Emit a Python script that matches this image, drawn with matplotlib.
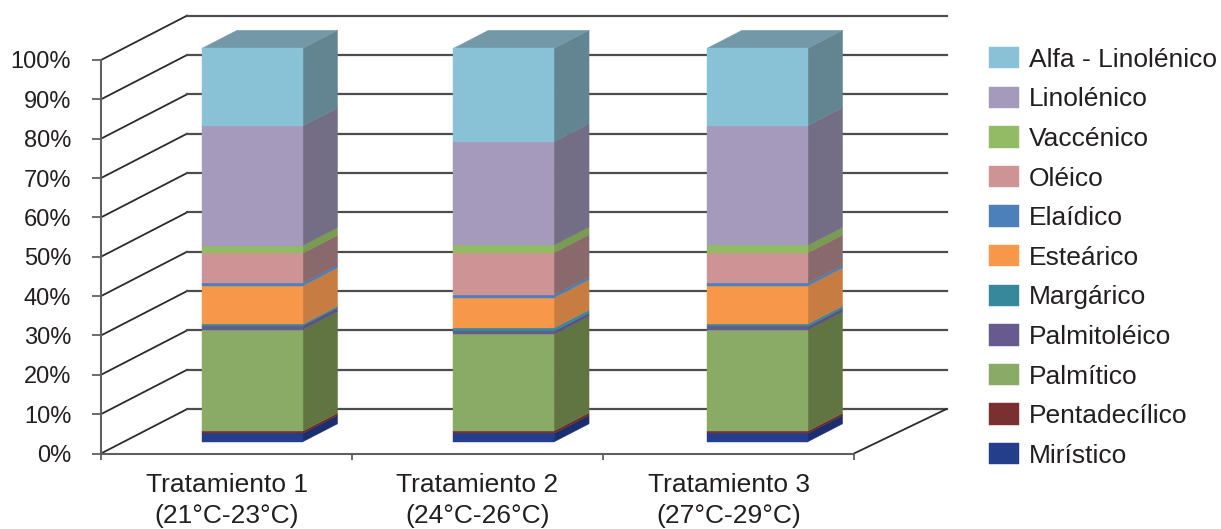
import matplotlib
matplotlib.use("Agg")
from matplotlib import pyplot as plt
from matplotlib.patches import Patch, Polygon

plt.rcParams['font.family'] = ['Liberation Sans', 'DejaVu Sans']

tratamientos = ["Tratamiento 1\n(21°C-23°C)", "Tratamiento 2\n(24°C-26°C)", "Tratamiento 3\n(27°C-29°C)"]
acidos = ["Mirístico", "Pentadecílico", "Palmítico", "Palmitoléico", "Margárico", "Esteárico",
          "Elaídico", "Oléico", "Vaccénico", "Linolénico", "Alfa - Linolénico"]

# porcentajes de cada tratamiento, de abajo hacia arriba
trat1 = [2.13, 0.58, 25.8, 1.0, 0.4, 9.75, 0.66, 7.6, 1.96, 30.4, 19.72]
trat2 = [2.13, 0.66, 24.55, 0.84, 0.76, 7.72, 0.66, 10.75, 1.93, 26.3, 23.7]
trat3 = [2.13, 0.58, 25.7, 0.93, 0.6, 9.7, 0.66, 7.7, 1.93, 30.4, 19.67]

color_frente = ["#243E8C", "#7A3030", "#8AAB65", "#675A8E", "#36889A", "#F79749",
                "#4B80BB", "#CE9395", "#93BB65", "#A599BC", "#89C2D6"]
color_lado = ["#1A2E70", "#6E2A2A", "#617543", "#5C5280", "#36889A", "#C77D41",
              "#4580B9", "#8A696C", "#7A9B52", "#736E85", "#638592"]
color_tapa = "#7398A8"

W, H = 1221, 529
fig = plt.figure(figsize=(W / 100, H / 100), dpi=100)
ax = fig.add_axes([101 / W, (H - 453.5) / H, 753 / W, 393.5 / H])
ax.set_xlim(0, 3)
ax.set_ylim(0, 100)

# profundidad de la caja 3D en unidades de datos
prof_x = 86 / 251
prof_y = 11.27
fin_x = 3 + 93 / 251

# paredes: lineas de la pared izquierda y del fondo
for v in range(0, 101, 10):
    ax.plot([0, prof_x], [v, v + prof_y], color="#2b2b2b", lw=1.3, clip_on=False, zorder=1)
    ax.plot([prof_x, fin_x], [v + prof_y, v + prof_y], color="#4d4d4d", lw=1.6, clip_on=False, zorder=1)
ax.plot([3, fin_x - 0.003], [0, prof_y], color="#2b2b2b", lw=1.3, clip_on=False, zorder=1)

# barras apiladas con cara frontal, lateral y tapa
bar_left = [0.402, 1.404, 2.414]
bar_w = 0.401
d0 = 0.262
d1 = 0.407
dx = d1 * prof_x
dy = d1 * prof_y
y_base = d0 * prof_y

for left, valores in zip(bar_left, [trat1, trat2, trat3]):
    abajo = y_base
    for val, cf, cl in zip(valores, color_frente, color_lado):
        arriba = abajo + val
        right = left + bar_w
        ax.add_patch(Polygon([(right, abajo), (right + dx, abajo + dy), (right + dx, arriba + dy), (right, arriba)],
                             facecolor=cl, edgecolor=cl, lw=0.3, clip_on=False, zorder=3))
        ax.add_patch(Polygon([(left, abajo), (right, abajo), (right, arriba), (left, arriba)],
                             facecolor=cf, edgecolor=cf, lw=0.3, clip_on=False, zorder=4))
        abajo = arriba
    ax.add_patch(Polygon([(left, abajo), (left + bar_w, abajo), (left + bar_w + dx, abajo + dy), (left + dx, abajo + dy)],
                         facecolor=color_tapa, edgecolor=color_tapa, lw=0.3, clip_on=False, zorder=3))

for lado in ["top", "right"]:
    ax.spines[lado].set_visible(False)
for lado in ["left", "bottom"]:
    ax.spines[lado].set_color("#606060")
    ax.spines[lado].set_linewidth(1.5)

ax.set_yticks(range(0, 101, 10))
ax.set_yticklabels([str(v) + "%" for v in range(0, 101, 10)])
ax.tick_params(axis="y", length=6.5, width=1.3, color="#606060", pad=15, labelsize=17, labelcolor="#231F20")

ax.set_xticks([0, 1, 2, 3])
ax.set_xticklabels([])
ax.set_xticks([0.5, 1.5, 2.5], minor=True)
ax.set_xticklabels(tratamientos, minor=True, linespacing=1.37)
ax.tick_params(axis="x", which="major", length=4.5, width=1.3, color="#606060")
ax.tick_params(axis="x", which="minor", length=0, pad=14, labelsize=19, labelcolor="#231F20")

handles = [Patch(facecolor=c, edgecolor=c, lw=0.3) for c in color_frente]
leg = fig.legend(handles[::-1], acidos[::-1], loc="upper left", bbox_to_anchor=(989 / W, 1 - 47 / H),
                 bbox_transform=fig.transFigure, frameon=False, fontsize=19, handlelength=1.14, handleheight=0.87,
                 handletextpad=0.38, labelspacing=0.56, borderaxespad=0, borderpad=0, labelcolor="#231F20")

fig.savefig("out.png", dpi=100)
